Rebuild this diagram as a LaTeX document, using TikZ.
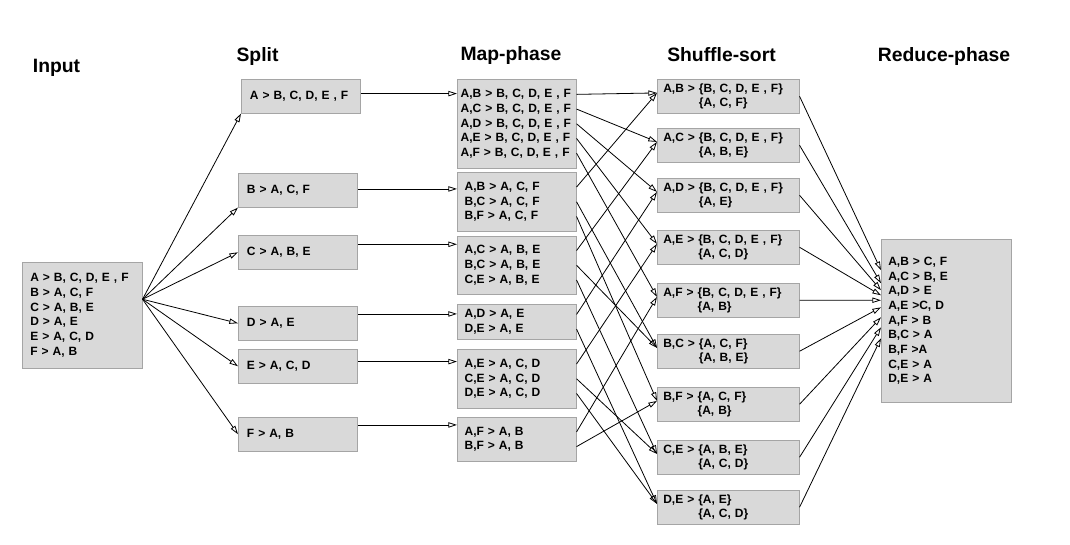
\documentclass[tikz,border=0pt]{standalone}
\usepackage{fontspec}
\setmainfont{Liberation Sans}
\usepackage{tikz}
\usetikzlibrary{arrows.meta}
\definecolor{boxfill}{RGB}{217,217,217}
\definecolor{boxline}{RGB}{165,165,165}
\newcommand{\shuf}[3]{#1 > \{#2\}\\\phantom{#1 > }\{#3\}}

\begin{document}
\begin{tikzpicture}[x=0.75pt,y=-0.75pt]
\tikzset{font=\fontsize{9}{11}\selectfont\bfseries}
\tikzset{box/.style={draw=boxline, fill=boxfill, anchor=north west, align=left, inner ysep=0pt}}
\tikzset{inbox/.style={box, inner xsep=6pt, text width=78pt, minimum height=79.5pt}}
\tikzset{splitbox/.style={box, inner xsep=6.5pt, text width=76.6pt, minimum height=25.5pt}}
\tikzset{mapbox/.style={box, inner xsep=5.5pt, text width=78.25pt}}
\tikzset{shufbox/.style={box, inner xsep=4.5pt, text width=97.5pt, minimum height=25.5pt}}
\tikzset{redbox/.style={box, inner xsep=5.25pt, text width=87pt, minimum height=122.25pt}}
\tikzset{title/.style={font=\fontsize{14.5}{17}\selectfont\bfseries}}
\tikzset{arr/.style={draw, line width=0.6pt, -{Triangle[open, length=6.5pt, width=4pt]}}}

\useasboundingbox (0,0) rectangle (1070,545);

\node[title] (tIn) at (56.5,68) {Input};
\node[title] (tSplit) at (257.5,57) {Split};
\node[title] (tMap) at (511,56) {Map-phase};
\node[title] (tShuf) at (721.5,55) {Shuffle-sort};
\node[title] (tRed) at (944,57) {Reduce-phase};

\node[inbox] (In) at (22,262) {A > B, C, D, E , F\\B > A, C, F\\C > A, B, E\\D > A, E\\E > A, C, D\\F > A, B};

\node[splitbox] (sA) at (241,79) {A > B, C, D, E , F};
\node[splitbox] (sB) at (238,173) {B > A, C, F};
\node[splitbox] (sC) at (238,235) {C > A, B, E};
\node[splitbox] (sD) at (238,306) {D > A, E};
\node[splitbox] (sE) at (238,349) {E > A, C, D};
\node[splitbox] (sF) at (238,417) {F > A, B};

\node[mapbox, inner xsep=2.5pt, text width=84.25pt, minimum height=66.75pt] (M1) at (457,79) {A,B > B, C, D, E , F\\A,C > B, C, D, E , F\\A,D > B, C, D, E , F\\A,E > B, C, D, E , F\\A,F > B, C, D, E , F};
\node[mapbox, minimum height=44.25pt] (M2) at (457,172) {A,B > A, C, F\\B,C > A, C, F\\B,F > A, C, F};
\node[mapbox, minimum height=43.5pt] (M3) at (457,236) {A,C > A, B, E\\B,C > A, B, E\\C,E > A, B, E};
\node[mapbox, minimum height=26.25pt] (M4) at (457,304) {A,D > A, E\\D,E > A, E};
\node[mapbox, minimum height=44.25pt] (M5) at (457,349) {A,E > A, C, D\\C,E > A, C, D\\D,E > A, C, D};
\node[mapbox, minimum height=33pt] (M6) at (457,417) {A,F > A, B\\B,F > A, B};

\node[shufbox] (S1) at (657,79) {\shuf{A,B}{B, C, D, E , F}{A, C, F}};
\node[shufbox] (S2) at (657,128) {\shuf{A,C}{B, C, D, E , F}{A, B, E}};
\node[shufbox] (S3) at (657,178) {\shuf{A,D}{B, C, D, E , F}{A, E}};
\node[shufbox] (S4) at (657,230) {\shuf{A,E}{B, C, D, E , F}{A, C, D}};
\node[shufbox] (S5) at (657,283) {\shuf{A,F}{B, C, D, E , F}{A, B}};
\node[shufbox] (S6) at (657,334) {\shuf{B,C}{A, C, F}{A, B, E}};
\node[shufbox] (S7) at (657,387) {\shuf{B,F}{A, C, F}{A, B}};
\node[shufbox] (S8) at (657,440) {\shuf{C,E}{A, B, E}{A, C, D}};
\node[shufbox] (S9) at (657,490) {\shuf{D,E}{A, E}{A, C, D}};

\node[redbox] (R) at (881,239) {A,B > C, F\\A,C > B, E\\A,D > E\\A,E >C, D\\A,F > B\\B,C > A\\B,F >A\\C,E > A\\D,E > A};

\coordinate (fan) at ([yshift=12pt]In.east);
\foreach \s/\a in {sA/south west, sB/south west, sC/west, sD/west, sE/west, sF/west}
  \draw[arr] (fan) -- (\s.\a);

\foreach \s/\m/\d in {sA/M1/2pt, sB/M2/1pt, sC/M3/6pt, sD/M4/7pt, sE/M5/3.5pt, sF/M6/7pt}
  \draw[arr] ([yshift=\d]\s.east) coordinate (t) -- (t -| \m.west);

\foreach \m/\n in {M1/5, M2/3, M3/3, M4/2, M5/3, M6/2}
  \foreach \i in {1,...,\n}
    \path (\m.east) ++(0,{(\i-(\n+1)/2)*14.7}) coordinate (\m-\i);

\foreach \a/\b in {M1-1/S1, M1-2/S2, M1-3/S3, M1-4/S4, M1-5/S5, M2-1/S1, M2-2/S6, M2-3/S7, M3-1/S2, M3-2/S6, M3-3/S8, M4-1/S3, M4-2/S9, M5-1/S4, M5-2/S8, M5-3/S9, M6-1/S5, M6-2/S7}
  \draw[arr] (\a) -- ([yshift=2.5pt]\b.west);

\foreach \s/\d in {S1/37.9pt, S2/28.1pt, S3/22.9pt, S4/19.1pt, S5/15.4pt, S6/10.1pt, S7/2.6pt, S8/-4.9pt, S9/-13.1pt}
  \draw[arr] (\s.east) -- ([yshift=\d]R.west);

\end{tikzpicture}
\end{document}
